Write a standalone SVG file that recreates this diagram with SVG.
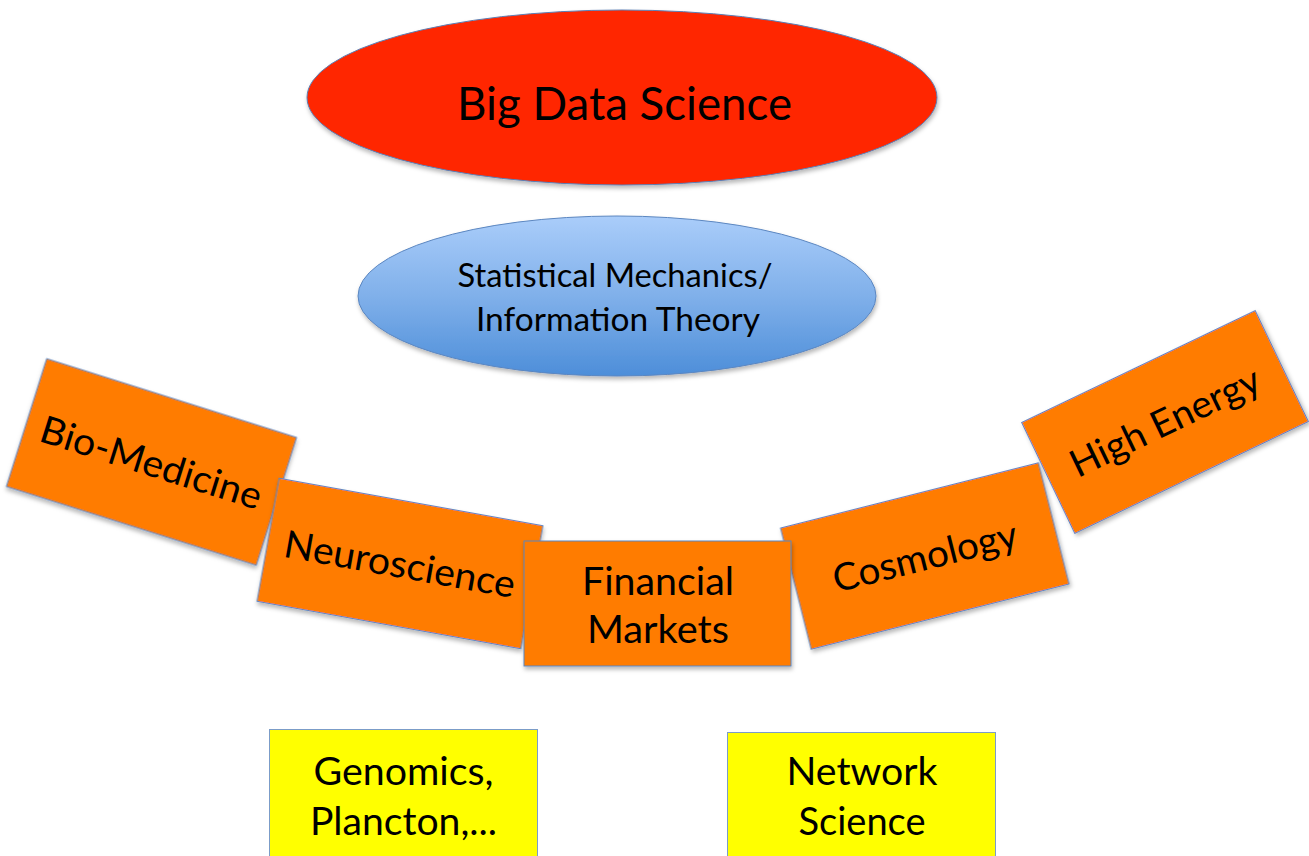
<svg xmlns="http://www.w3.org/2000/svg" width="1309" height="856" viewBox="0 0 1309 856">
  <defs>
    <linearGradient id="blueFill" x1="0" y1="0" x2="0" y2="1">
      <stop offset="0" stop-color="#aacdfa"/>
      <stop offset="0.5" stop-color="#80b0ea"/>
      <stop offset="1" stop-color="#4d8ed9"/>
    </linearGradient>
    <filter id="shade" x="-10%" y="-10%" width="120%" height="130%">
      <feDropShadow dx="1" dy="3" stdDeviation="2" flood-color="#000" flood-opacity="0.28"/>
    </filter>
    <style>
      .lbl { font-family: Lato, "Open Sans", "Liberation Sans", sans-serif; fill: #000; text-anchor: middle; }
      .box { font-size: 38px; }
      .orange { fill: #ff7c00; stroke: #5b86c0; stroke-width: 1; }
      .yellow { fill: #ffff00; stroke: #7b9cc8; stroke-width: 1; }
    </style>
  </defs>

  <rect width="1309" height="856" fill="#ffffff"/>

  <!-- top level -->
  <g id="big-data-science">
    <ellipse cx="622" cy="97.5" rx="315" ry="87.5" fill="#ff2600" stroke="#5b7fb5" stroke-width="1" filter="url(#shade)"/>
    <text class="lbl" x="624.5" y="120" font-size="47" textLength="335" lengthAdjust="spacingAndGlyphs">Big Data Science</text>
  </g>

  <g id="stat-mech">
    <ellipse cx="617" cy="296" rx="259" ry="80" fill="url(#blueFill)" stroke="#5b86c0" stroke-width="1" filter="url(#shade)"/>
    <text class="lbl" x="615" y="287" font-size="33" textLength="315" lengthAdjust="spacingAndGlyphs">Statistical Mechanics/</text>
    <text class="lbl" x="618" y="331" font-size="33" textLength="284" lengthAdjust="spacingAndGlyphs">Information Theory</text>
  </g>

  <!-- arc of application fields -->
  <g id="bio-medicine" transform="translate(151.5 462) rotate(17.5)">
    <rect class="orange" x="-131" y="-67" width="262" height="134" filter="url(#shade)"/>
    <text class="lbl box" x="0" y="14" textLength="230" lengthAdjust="spacingAndGlyphs">Bio-Medicine</text>
  </g>

  <g id="neuroscience" transform="translate(400 563.5) rotate(10.2)">
    <rect class="orange" x="-134" y="-62.5" width="268" height="125" filter="url(#shade)"/>
    <text class="lbl box" x="0" y="14" textLength="234" lengthAdjust="spacingAndGlyphs">Neuroscience</text>
  </g>

  <g id="cosmology" transform="translate(924.8 556) rotate(-14.2)">
    <rect class="orange" x="-133" y="-62.5" width="266" height="125" filter="url(#shade)"/>
    <text class="lbl box" x="0" y="14" textLength="189" lengthAdjust="spacingAndGlyphs">Cosmology</text>
  </g>

  <g id="high-energy" transform="translate(1165 422) rotate(-25.6)">
    <rect class="orange" x="-129.5" y="-61.5" width="259" height="123" filter="url(#shade)"/>
    <text class="lbl box" x="0" y="13" textLength="206" lengthAdjust="spacingAndGlyphs">High Energy</text>
  </g>

  <g id="financial-markets">
    <rect class="orange" x="524" y="541" width="267" height="125" filter="url(#shade)"/>
    <text class="lbl box" x="658" y="595" textLength="152" lengthAdjust="spacingAndGlyphs">Financial</text>
    <text class="lbl box" x="658" y="643" textLength="142" lengthAdjust="spacingAndGlyphs">Markets</text>
  </g>

  <!-- data-driven fields -->
  <g id="genomics">
    <rect class="yellow" x="269.5" y="729.5" width="268" height="140"/>
    <text class="lbl box" x="403.5" y="785" textLength="180" lengthAdjust="spacingAndGlyphs">Genomics,</text>
    <text class="lbl box" x="403.5" y="835" textLength="187" lengthAdjust="spacingAndGlyphs">Plancton,...</text>
  </g>

  <g id="network-science">
    <rect class="yellow" x="727.5" y="732.5" width="268" height="140"/>
    <text class="lbl box" x="862" y="785" textLength="151" lengthAdjust="spacingAndGlyphs">Network</text>
    <text class="lbl box" x="862" y="835" textLength="127" lengthAdjust="spacingAndGlyphs">Science</text>
  </g>

  <g id="connectors"></g>
</svg>
